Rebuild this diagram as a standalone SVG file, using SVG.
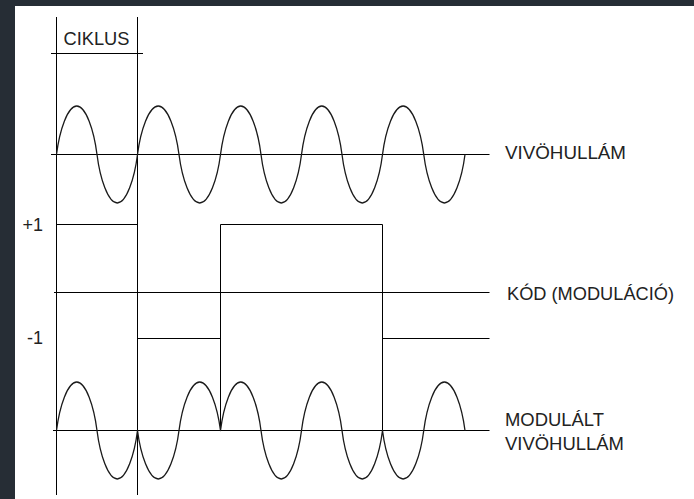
<svg xmlns="http://www.w3.org/2000/svg" width="694" height="499" viewBox="0 0 694 499">
<style>
.ln{stroke:#000;stroke-width:1;fill:none}
.wv{stroke:#1a1a1a;stroke-width:1.3;fill:none;stroke-linejoin:round}
.tx{font-family:"Liberation Sans",Arial,sans-serif;font-size:18px;fill:#222}
</style>
<rect x="0" y="0" width="694" height="499" fill="#262d35"/>
<rect x="15" y="6" width="679" height="493" fill="#fff"/>
<g id="cycle-marker">
<line class="ln" x1="51" y1="53.5" x2="143" y2="53.5"/>
<text class="tx" x="63.5" y="45" textLength="66" lengthAdjust="spacingAndGlyphs">CIKLUS</text>
</g>
<g id="connectors">
<line class="ln" x1="56.5" y1="17" x2="56.5" y2="495"/>
<line class="ln" x1="137.5" y1="17" x2="137.5" y2="495"/>
<line class="ln" x1="220.5" y1="224.5" x2="220.5" y2="430.5"/>
<line class="ln" x1="382.5" y1="224.5" x2="382.5" y2="430.5"/>
</g>
<g id="carrier">
<line class="ln" x1="51" y1="154.5" x2="489.5" y2="154.5"/>
<path class="wv" d="M56.5,154.5 c3.04,-24.25 11.14,-48.5 20.25,-48.5 s17.21,24.25 20.25,48.5 s11.14,48.5 20.25,48.5 s17.21,-24.25 20.25,-48.5
s11.41,-48.5 20.75,-48.5 s17.64,24.25 20.75,48.5 s11.41,48.5 20.75,48.5 s17.64,-24.25 20.75,-48.5
s11.14,-48.5 20.25,-48.5 s17.21,24.25 20.25,48.5 s11.14,48.5 20.25,48.5 s17.21,-24.25 20.25,-48.5
s11.14,-48.5 20.25,-48.5 s17.21,24.25 20.25,48.5 s11.14,48.5 20.25,48.5 s17.21,-24.25 20.25,-48.5
s11.34,-48.5 20.625,-48.5 s17.53,24.25 20.625,48.5 s11.34,48.5 20.625,48.5 s17.53,-24.25 20.625,-48.5"/>
<text class="tx" x="505" y="159" textLength="121" lengthAdjust="spacingAndGlyphs">VIVÖHULLÁM</text>
</g>
<g id="code">
<line class="ln" x1="56.5" y1="224.5" x2="137.5" y2="224.5"/>
<line class="ln" x1="220.5" y1="224.5" x2="382.5" y2="224.5"/>
<line class="ln" x1="54" y1="292.5" x2="489.5" y2="292.5"/>
<line class="ln" x1="137.5" y1="338.5" x2="220.5" y2="338.5"/>
<line class="ln" x1="382.5" y1="338.5" x2="489.5" y2="338.5"/>
<text class="tx" x="43" y="231" text-anchor="end">+1</text>
<text class="tx" x="43" y="344" text-anchor="end">-1</text>
<text class="tx" x="507" y="299.5" textLength="167" lengthAdjust="spacingAndGlyphs">KÓD (MODULÁCIÓ)</text>
</g>
<g id="modulated">
<line class="ln" x1="53" y1="430.5" x2="489.5" y2="430.5"/>
<path class="wv" d="M56.5,430.5 c3.04,-24.25 11.14,-48.5 20.25,-48.5 s17.21,24.25 20.25,48.5 s11.14,48.5 20.25,48.5 s17.21,-24.25 20.25,-48.5
c3.11,24.25 11.41,48.5 20.75,48.5 s17.64,-24.25 20.75,-48.5 s11.41,-48.5 20.75,-48.5 s17.64,24.25 20.75,48.5
c3.04,-24.25 11.14,-48.5 20.25,-48.5 s17.21,24.25 20.25,48.5 s11.14,48.5 20.25,48.5 s17.21,-24.25 20.25,-48.5
s11.14,-48.5 20.25,-48.5 s17.21,24.25 20.25,48.5 s11.14,48.5 20.25,48.5 s17.21,-24.25 20.25,-48.5
c3.09,24.25 11.34,48.5 20.625,48.5 s17.53,-24.25 20.625,-48.5 s11.34,-48.5 20.625,-48.5 s17.53,24.25 20.625,48.5"/>
<text class="tx" x="505" y="425.5" textLength="99" lengthAdjust="spacingAndGlyphs">MODULÁLT</text>
<text class="tx" x="505" y="450" textLength="119" lengthAdjust="spacingAndGlyphs">VIVÖHULLÁM</text>
</g>
</svg>
